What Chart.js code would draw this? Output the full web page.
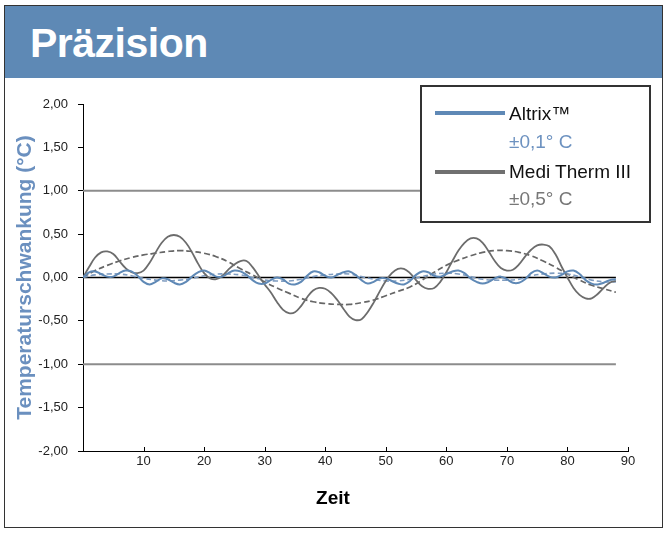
<!DOCTYPE html>
<html>
<head>
<meta charset="utf-8">
<script src="https://cdn.jsdelivr.net/npm/chart.js@4.4.1/dist/chart.umd.min.js"></script>
<style>
body { margin:0; background:#fff; font-family:"Liberation Sans", Arial, sans-serif; }
#wrap { position:absolute; left:0; top:0; width:668px; height:533px; }
#frame { position:absolute; left:4px; top:5px; width:657px; height:521px; border:1px solid #333; }
#band { position:absolute; left:5px; top:6px; width:657px; height:72px; background:#5e89b5; }
#title { position:absolute; left:30px; top:23px; margin:0; font-size:41px; line-height:41px; font-weight:bold; color:#fff; letter-spacing:-0.5px; }
#legend { position:absolute; left:420px; top:85px; width:227px; height:134px; border:2px solid #333; background:#fff; }
.swatch { position:absolute; left:13px; width:70px; height:4px; }
.lt { position:absolute; left:87px; font-size:19px; line-height:19px; white-space:nowrap; }
#xtitle { position:absolute; left:283px; width:100px; top:488px; text-align:center; font-size:19px; line-height:19px; font-weight:bold; color:#000; }
</style>
</head>
<body>
<div id="wrap"><canvas id="myChart"></canvas></div>
<div id="frame"></div>
<div id="band"></div>
<div id="title">Präzision</div>
<div id="legend">
  <div class="swatch" style="top:24px;background:#5f89b6"></div>
  <div class="lt" style="top:17px;color:#111">Altrix™</div>
  <div class="lt" style="top:45px;color:#6d92c0">±0,1° C</div>
  <div class="swatch" style="top:83px;background:#707070"></div>
  <div class="lt" style="top:75px;color:#111">Medi Therm III</div>
  <div class="lt" style="top:102px;color:#777">±0,5° C</div>
</div>
<div id="xtitle">Zeit</div>
<script>
// Zeitachse (fein) und Messwerte
var time = [0,1,2,3,4,5,6,7,8,9,10,11,12,13,14,15,16,17,18,19,20,21,22,23,24,25,26,27,28,29,
            30,31,32,33,34,35,36,37,38,39,40,41,42,43,44,45,46,47,48,49,50,51,52,53,54,55,56,57,58,59,
            60,61,62,63,64,65,66,67,68,69,70,71,72,73,74,75,76,77,78,79,80,81,82,83,84,85,86,87,88];

var altrix = [0.00,0.06,0.07,0.04,0.01,0.01,0.05,0.08,0.07,0.02,
              -0.05,-0.08,-0.05,-0.01,-0.02,-0.06,-0.08,-0.05,0.01,0.06,
              0.08,0.05,0.01,0.01,0.05,0.08,0.07,0.03,-0.03,-0.07,
              -0.07,-0.03,0.00,-0.02,-0.07,-0.08,-0.05,0.02,0.07,0.06,
              0.02,0.00,0.03,0.06,0.07,0.03,-0.03,-0.07,-0.05,-0.01,
              -0.01,-0.04,-0.07,-0.08,-0.04,0.03,0.07,0.06,0.02,0.01,
              0.04,0.07,0.08,0.05,-0.01,-0.05,-0.07,-0.05,-0.01,0.01,
              -0.02,-0.06,-0.06,-0.02,0.05,0.08,0.05,0.01,0.00,0.03,
              0.07,0.08,0.04,-0.03,-0.07,-0.08,-0.06,-0.03,-0.02];

var mediTherm = [0.00,0.12,0.23,0.29,0.30,0.27,0.19,0.11,0.06,0.05,
                 0.08,0.17,0.29,0.40,0.47,0.49,0.47,0.40,0.29,0.16,
                 0.05,-0.01,-0.02,0.02,0.09,0.15,0.19,0.19,0.12,0.02,
                 -0.08,-0.17,-0.28,-0.37,-0.41,-0.40,-0.33,-0.23,-0.15,-0.12,
                 -0.13,-0.18,-0.26,-0.36,-0.45,-0.49,-0.48,-0.40,-0.29,-0.16,
                 -0.04,0.05,0.10,0.10,0.05,-0.03,-0.10,-0.13,-0.12,-0.05,
                 0.06,0.19,0.31,0.40,0.45,0.45,0.40,0.30,0.19,0.11,
                 0.08,0.09,0.15,0.24,0.32,0.37,0.38,0.36,0.27,0.13,
                 0.00,-0.12,-0.20,-0.24,-0.24,-0.19,-0.12,-0.06,-0.04];

// Trendlinien (gestrichelt)
var trendTime = [0,2,4,6,8,10,12,14,16,18,20,22,24,26,28,30,32,34,36,38,40,42,44,
                 46,48,50,52,54,56,58,60,62,64,66,68,70,72,74,76,78,80,82,84,86,88];

var altrixTrend = [0.00,0.03,0.04,0.04,0.02,-0.01,-0.03,-0.04,-0.03,-0.01,
                   0.02,0.04,0.04,0.03,0.00,-0.03,-0.04,-0.04,-0.02,0.01,
                   0.03,0.04,0.04,0.01,-0.02,-0.04,-0.04,-0.02,0.01,0.04,
                   0.05,0.04,0.01,-0.02,-0.03,-0.03,-0.02,0.02,0.04,0.05,
                   0.04,0.01,-0.03,-0.05,-0.05];

var mediTrend = [0.00,0.08,0.14,0.19,0.23,0.26,0.28,0.30,0.31,0.30,
                 0.28,0.24,0.18,0.10,0.03,-0.05,-0.12,-0.18,-0.24,-0.28,
                 -0.30,-0.31,-0.31,-0.29,-0.26,-0.21,-0.16,-0.11,-0.03,0.06,
                 0.14,0.20,0.25,0.29,0.31,0.31,0.29,0.25,0.19,0.12,
                 0.04,-0.03,-0.09,-0.13,-0.17];

// Grenzlinien
var limitTime = [0, 88];
var upperLimit = [1, 1];
var lowerLimit = [-1, -1];
var baseline = [0, 0];

var xTicks = [10,20,30,40,50,60,70,80,90];

function pts(xs, ys) {
    var out = [];
    for (var i = 0; i < xs.length; i++) out.push({x: xs[i], y: ys[i]});
    return out;
}

var innerTicks = {
    id: 'innerTicks',
    afterDraw: function(chart) {
        var xs = chart.scales.x, ctx = chart.ctx;
        ctx.save();
        ctx.strokeStyle = '#000';
        ctx.lineWidth = 1;
        xTicks.forEach(function(v) {
            var px = Math.round(xs.getPixelForValue(v)) + 0.5;
            ctx.beginPath();
            ctx.moveTo(px, xs.top);
            ctx.lineTo(px, xs.top - 4);
            ctx.stroke();
        });
        ctx.restore();
    }
};

var font = "'Liberation Sans', Arial, sans-serif";

const config = {
    type: 'line',
    data: {
        datasets: [
            { label: 'Altrix', data: pts(time, altrix), borderColor: '#5f89b6', borderWidth: 2, tension: 0.4 },
            { label: 'Medi Therm III', data: pts(time, mediTherm), borderColor: '#6c6c6c', borderWidth: 1.8, tension: 0.4 },
            { label: 'Altrix Trend', data: pts(trendTime, altrixTrend), borderColor: '#7f9cc0', borderWidth: 1.6, borderDash: [5, 3], tension: 0.4 },
            { label: 'Medi Therm Trend', data: pts(trendTime, mediTrend), borderColor: '#666', borderWidth: 1.7, borderDash: [6, 3], tension: 0.4 },
            { label: 'Null', data: pts(limitTime, baseline), borderColor: '#000', borderWidth: 1.5 },
            { label: '+1', data: pts(limitTime, upperLimit), borderColor: '#8c8c8c', borderWidth: 2 },
            { label: '-1', data: pts(limitTime, lowerLimit), borderColor: '#8c8c8c', borderWidth: 2 }
        ]
    },
    options: {
        responsive: true,
        maintainAspectRatio: false,
        animation: false,
        elements: { point: { radius: 0 } },
        layout: { padding: { left: 0, top: 104, right: 40, bottom: 0 } },
        plugins: { legend: { display: false }, tooltip: { enabled: false } },
        scales: {
            x: {
                type: 'linear',
                min: 0, max: 90,
                afterFit: function(s) { s.height = 82; },
                border: { color: '#000', width: 1 },
                grid: { display: true, drawOnChartArea: false, drawTicks: false },
                ticks: {
                    stepSize: 10, padding: 3, color: '#222',
                    font: { family: font, size: 13 },
                    callback: function(v) { return v === 0 ? '' : v; }
                }
            },
            y: {
                min: -2, max: 2,
                afterFit: function(s) { s.width = 83; },
                border: { color: '#000', width: 1 },
                grid: { display: true, drawOnChartArea: false, drawTicks: true, tickLength: 5, tickColor: '#000' },
                ticks: {
                    stepSize: 0.5, padding: 10, color: '#222',
                    font: { family: font, size: 13 },
                    callback: function(v) { return v.toFixed(2).replace('.', ','); }
                },
                title: {
                    display: true,
                    text: 'Temperaturschwankung (°C)',
                    color: '#6b90bf',
                    font: { family: font, size: 21, weight: 'bold' },
                    padding: { top: 13, bottom: 0 }
                }
            }
        }
    },
    plugins: [innerTicks]
};

const myChart = new Chart(document.getElementById('myChart'), config);
</script>
</body>
</html>
